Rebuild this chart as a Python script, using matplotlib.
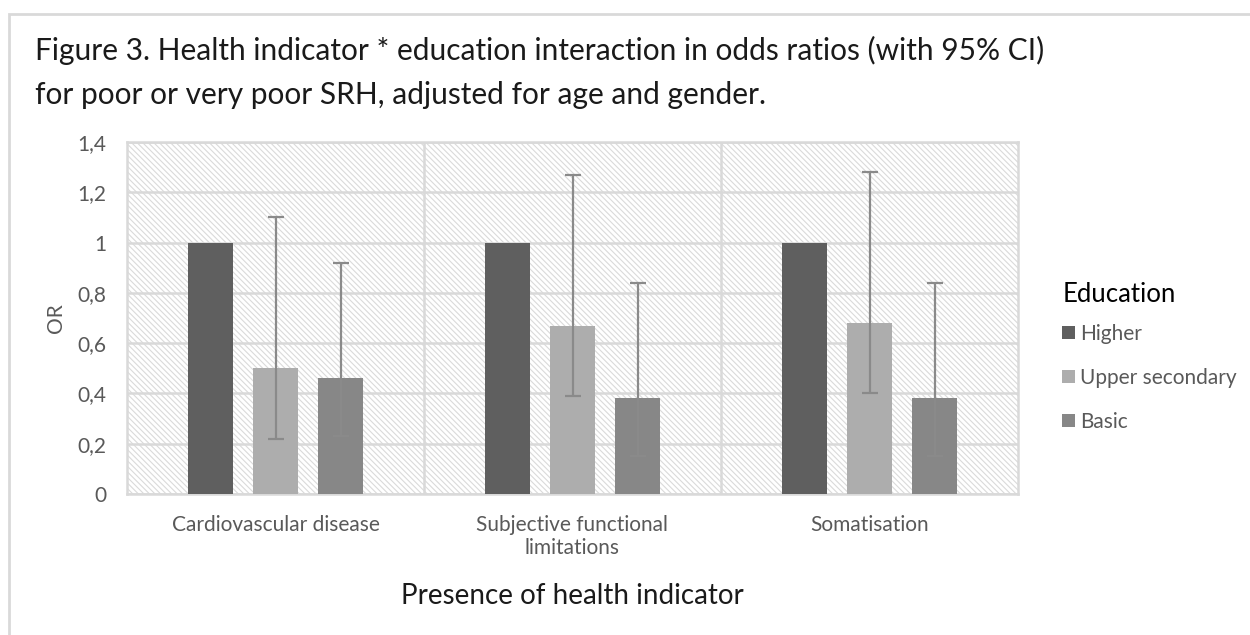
import matplotlib
matplotlib.use("Agg")
import matplotlib.pyplot as plt
import numpy as np
from matplotlib.patches import Rectangle

plt.rcParams['font.family'] = ['Lato', 'DejaVu Sans']
plt.rcParams['hatch.color'] = '#dadada'
plt.rcParams['hatch.linewidth'] = 0.8

categories = ["Cardiovascular disease", "Subjective functional\nlimitations", "Somatisation"]
groups = ["Higher", "Upper secondary", "Basic"]
odds = {
    "Higher": [1.0, 1.0, 1.0],
    "Upper secondary": [0.50, 0.67, 0.68],
    "Basic": [0.46, 0.38, 0.38],
}
ci_low = {
    "Upper secondary": [0.22, 0.39, 0.40],
    "Basic": [0.23, 0.15, 0.15],
}
ci_high = {
    "Upper secondary": [1.10, 1.27, 1.28],
    "Basic": [0.92, 0.84, 0.84],
}
colors = {"Higher": "#5f5f5f", "Upper secondary": "#adadad", "Basic": "#878787"}
yticks = [0, 0.2, 0.4, 0.6, 0.8, 1.0, 1.2, 1.4]

fig = plt.figure(figsize=(12.5, 6.35), dpi=100)
ax = fig.add_axes([127/1250, 1-494/635, (1018-127)/1250, (494-142)/635])

# outer chart frame
fig.patches.append(Rectangle((9/1250, -0.05), 1.1, 1-14/635+0.05, transform=fig.transFigure,
                             fill=False, edgecolor='#d9d9d9', linewidth=2))

x = np.arange(len(categories))
width = 0.152
step = 0.219

# hatched plot background
ax.add_patch(Rectangle((0, 0), 1, 1, transform=ax.transAxes, facecolor='white',
                       hatch='\\\\\\\\\\\\', edgecolor='#dadada', linewidth=0, zorder=0))

for i, g in enumerate(groups):
    pos = x + (i - 1) * step
    ax.bar(pos, odds[g], width, color=colors[g], label=g, zorder=3)
    if g in ci_low:
        vals = np.array(odds[g])
        err = [vals - np.array(ci_low[g]), np.array(ci_high[g]) - vals]
        ax.errorbar(pos, vals, yerr=err, fmt='none', ecolor='#8a8a8a',
                    elinewidth=1.6, capsize=6, capthick=1.6, zorder=4)

ax.set_xlim(-0.5, 2.5)
ax.set_ylim(0, 1.4)
ax.set_yticks(yticks)
ax.set_yticklabels([("%g" % v).replace('.', ',') for v in yticks])
ax.set_xticks(x)
ax.set_xticklabels(categories, linespacing=1.2)
for b in [0.5, 1.5]:
    ax.axvline(b, color='#d9d9d9', linewidth=1.8, zorder=1)
ax.yaxis.grid(True, color='#d9d9d9', linewidth=1.8, zorder=1)
ax.set_axisbelow(True)
for s in ax.spines.values():
    s.set_color('#d9d9d9')
    s.set_linewidth(1.8)
ax.tick_params(length=0, labelsize=15, colors='#595959')
ax.tick_params(axis='y', pad=15)
ax.tick_params(axis='x', pad=15)

ax.set_ylabel("OR", fontsize=15, color='#595959', labelpad=8)
ax.set_xlabel("Presence of health indicator", fontsize=20, color='#1a1a1a', labelpad=18)

fig.text(35/1250, 1-72.5/635, "Figure 3. Health indicator * education interaction in odds ratios (with 95% CI)\n"
         "for poor or very poor SRH, adjusted for age and gender.",
         fontsize=21.5, color='#1a1a1a', va='center', ha='left', linespacing=1.72)

leg = ax.legend(loc='upper left', bbox_to_anchor=(1052/1250, 1-272/635), bbox_transform=fig.transFigure,
                frameon=False, title="Education", fontsize=15, title_fontsize=18.5,
                handlelength=0.6, handleheight=0.6, handletextpad=0.25, labelspacing=1.15,
                borderpad=0)
leg._legend_box.align = "left"
leg._legend_box.sep = 12
for t in leg.get_texts():
    t.set_color('#595959')

fig.savefig("out.png", dpi=100)
